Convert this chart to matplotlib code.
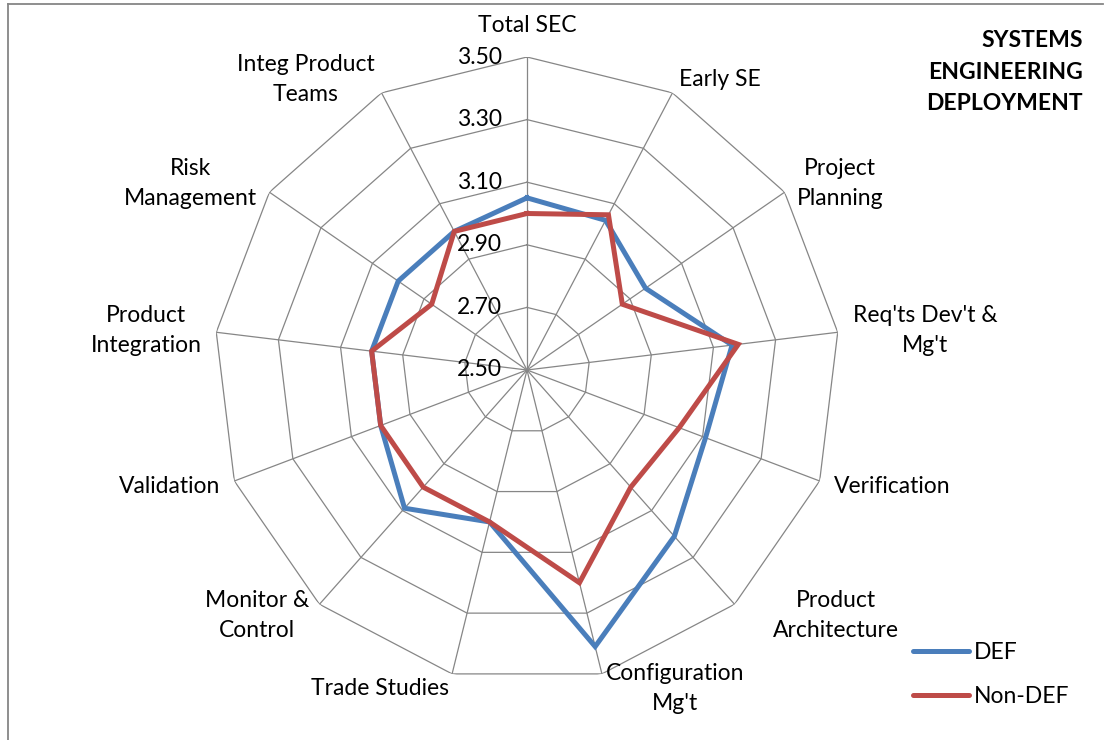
import numpy as np
import matplotlib
matplotlib.use("Agg")
import matplotlib.pyplot as plt
import matplotlib.transforms as mtransforms
from matplotlib.lines import Line2D

plt.rcParams['font.family'] = ['Lato', 'DejaVu Sans']

categories = ["Total SEC", "Early SE", "Project\nPlanning", "Req'ts Dev't &\nMg't",
              "Verification", "Product\nArchitecture", "Configuration\nMg't",
              "Trade Studies", "Monitor &\nControl", "Validation",
              "Product\nIntegration", "Risk\nManagement", "Integ Product\nTeams"]
def_values = [3.05, 3.04, 2.96, 3.16, 3.11, 3.21, 3.41, 3.00, 3.09, 3.00, 3.00, 3.00, 3.00]
nondef_values = [3.00, 3.06, 2.87, 3.18, 3.02, 3.00, 3.20, 3.00, 3.00, 3.00, 3.00, 2.87, 3.00]
series_names = ["DEF", "Non-DEF"]
tick_values = [2.50, 2.70, 2.90, 3.10, 3.30, 3.50]
title_text = "SYSTEMS\nENGINEERING\nDEPLOYMENT"

W, H = 1107, 740
fig = plt.figure(figsize=(W / 100, H / 100), dpi=100)
fig.patch.set_facecolor('white')

cx, cy, R = 527, 370, 313
ax = fig.add_axes([(cx - R) / W, (H - cy - R) / H, 2 * R / W, 2 * R / H], projection='polar')
ax.set_theta_zero_location('N')
ax.set_theta_direction(-1)
rmin, rmax = tick_values[0], tick_values[-1]
ax.set_ylim(rmin, rmax)
ax.grid(False)
ax.set_xticks([])
ax.set_yticks([])
ax.spines['polar'].set_visible(False)
ax.patch.set_alpha(0)

n = len(categories)
angles = np.arange(n) * 2 * np.pi / n
closed = np.concatenate([angles, angles[:1]])

grid_color = '#868686'
for lv in tick_values[1:]:
    ax.plot(closed, [lv] * (n + 1), color=grid_color, lw=0.9, zorder=1)
for a in angles:
    ax.plot([a, a], [rmin, rmax], color=grid_color, lw=0.9, zorder=1)

fs = 16.5
ls = 1.55
colors = ['#4A7EBB', '#BE4B48']
for vals, col, name in zip([def_values, nondef_values], colors, series_names):
    v = list(vals) + [vals[0]]
    ax.plot(closed, v, color=col, lw=3.6, zorder=3, label=name, solid_joinstyle='miter')

# radial tick labels
for lv in tick_values:
    tr = mtransforms.offset_copy(ax.transData, fig=fig, x=-25, y=0, units='dots')
    ax.text(0, lv, f"{lv:.2f}", transform=tr, ha='right', va='center', fontsize=fs, zorder=4)

# category labels
pad = 15
for i, (a, lab) in enumerate(zip(angles, categories)):
    s, c = np.sin(a), np.cos(a)
    dx, dy = pad * s, pad * c
    if s > 0.1:
        ha = 'left'
    elif s < -0.1:
        ha = 'right'
    else:
        ha = 'center'
    if i == 0:
        dy = 31
    if i == 5:
        dx += 28
    tr = mtransforms.offset_copy(ax.transData, fig=fig, x=dx, y=dy, units='dots')
    ax.text(a, rmax, lab, transform=tr, ha=ha, va='center', multialignment='center',
            fontsize=fs, linespacing=ls, zorder=4)

fig.text(1083 / W, 1 - 30 / H, title_text, ha='right', va='top', multialignment='right',
         fontsize=fs, fontweight='bold', linespacing=1.62)

handles = [Line2D([0], [0], color=col, lw=3.6, solid_capstyle='round') for col in colors]
fig.legend(handles, series_names, loc='upper left', bbox_to_anchor=(913 / W, 1 - 642 / H),
           frameon=False, fontsize=fs, handlelength=2.45, handletextpad=0.2,
           labelspacing=1.0, borderaxespad=0, borderpad=0)

# chart border (left and top visible)
fig.add_artist(Line2D([8 / W, 8 / W], [0, 1 - 4 / H], color='#868686', lw=1.3, transform=fig.transFigure))
fig.add_artist(Line2D([8 / W, 1103 / W], [1 - 4 / H, 1 - 4 / H], color='#868686', lw=1.3, transform=fig.transFigure))

fig.savefig('out.png', dpi=100)
